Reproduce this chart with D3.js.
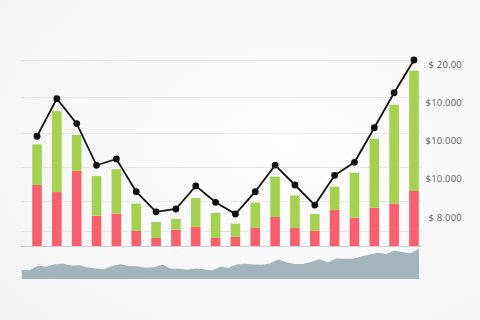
<!DOCTYPE html>
<html>
<head>
<meta charset="utf-8">
<script src="https://cdn.jsdelivr.net/npm/d3@7"></script>
<style>
  html, body { margin: 0; padding: 0; background: #fff; }
  svg { display: block; }
</style>
</head>
<body>
<svg id="chart"></svg>
<script>
var width = 480, height = 320

// data
var categories = d3.range(1, 21).map(function(d) { return "P" + d })
var redValues = [32.8, 29.0, 40.3, 16.3, 17.4, 8.1, 4.3, 8.8, 10.2, 4.3,
                 5.0, 9.7, 15.6, 9.7, 8.2, 19.4, 15.2, 20.6, 22.7, 29.6]
var greenValues = [21.9, 43.5, 19.4, 21.3, 23.9, 14.7, 8.6, 5.8, 15.6, 13.4,
                   7.0, 13.6, 21.7, 17.4, 9.0, 12.5, 24.2, 37.1, 53.2, 64.7]
var lineValues = [59.0, 79.2, 65.8, 43.4, 46.8, 29.2, 18.4, 19.9, 32.3, 23.5,
                  17.2, 29.2, 43.5, 32.8, 22.0, 38.0, 45.0, 63.6, 82.4, 100.0]
var gridValues = [8, 24, 42.5, 61, 80, 100]
var tickLabels = ["$ 20.00", "$10.000", "$10.000", "$10.000", "$ 8.000"]
var overviewValues = [9, 9, 13.3, 12.3, 14.7, 15.3, 13.5, 13.7, 11.5, 10.6,
                      9.8, 13.2, 14.8, 12.8, 12.7, 11.3, 11.8, 14.6, 10.3, 10.6,
                      9.3, 10.4, 9.7, 8.5, 12.2, 11.2, 14.6, 15.2, 14.6, 14.2,
                      15.4, 19.5, 16.7, 15.1, 15, 17.3, 19.7, 16.5, 20.5, 20.2,
                      20.2, 22.4, 24.2, 26.2, 24.9, 28.3, 27, 25.8, 30.3]

var svg = d3.select("#chart")
    .attr("width", width)
    .attr("height", height)

// soft background
var defs = svg.append("defs")
var grad = defs.append("radialGradient")
    .attr("id", "bg")
    .attr("cx", "60%").attr("cy", "45%").attr("r", "75%")
grad.append("stop").attr("offset", "0%").attr("stop-color", "#ffffff")
grad.append("stop").attr("offset", "100%").attr("stop-color", "#f3f3f3")
svg.append("rect")
    .attr("width", width)
    .attr("height", height)
    .attr("fill", "url(#bg)")

var x = d3.scaleBand()
    .domain(categories)
    .range([27.1, 423.9])
    .paddingInner(0.516)
    .paddingOuter(0.258)

var y = d3.scaleLinear()
    .domain([0, 100])
    .range([246, 60])

// grid
svg.append("g").selectAll("line")
    .data(gridValues)
    .enter()
    .append("line")
        .attr("x1", 21)
        .attr("x2", 422)
        .attr("y1", function(d) { return Math.round(y(d)) + 0.5 })
        .attr("y2", function(d) { return Math.round(y(d)) + 0.5 })
        .attr("stroke", "#e8e8e8")
        .attr("stroke-width", 1)

// stacked bars
var stackData = categories.map(function(c, i) {
    return { cat: c, red: redValues[i], green: greenValues[i] }
})
var series = d3.stack().keys(["red", "green"])(stackData)
var colors = { red: "#f7606c", green: "#a4d151" }

svg.append("g").selectAll("g")
    .data(series)
    .enter()
    .append("g")
        .attr("fill", function(d) { return colors[d.key] })
    .selectAll("rect")
    .data(function(d) { return d })
    .enter()
    .append("rect")
        .attr("x", function(d) { return x(d.data.cat) })
        .attr("width", x.bandwidth())
        .attr("y", function(d) { return y(d[1]) })
        .attr("height", function(d) { return y(d[0]) - y(d[1]) })

// baseline
svg.append("line")
    .attr("x1", 21).attr("x2", 422)
    .attr("y1", y(0) + 0.5).attr("y2", y(0) + 0.5)
    .attr("stroke", "#cfcfcf")

// line + dots
var cx = function(i) { return x(categories[i]) + x.bandwidth() / 2 }
var line = d3.line()
    .x(function(d, i) { return cx(i) })
    .y(function(d) { return y(d) })

svg.append("path")
    .datum(lineValues)
    .attr("d", line)
    .attr("fill", "none")
    .attr("stroke", "#111")
    .attr("stroke-width", 1.8)

svg.append("g").selectAll("circle")
    .data(lineValues)
    .enter()
    .append("circle")
        .attr("cx", function(d, i) { return cx(i) })
        .attr("cy", function(d) { return y(d) })
        .attr("r", 3.4)
        .attr("fill", "#111")

// right-hand labels
var ly = d3.scalePoint()
    .domain(d3.range(tickLabels.length))
    .range([65, 218])

svg.append("g").selectAll("text")
    .data(tickLabels)
    .enter()
    .append("text")
        .attr("x", 462)
        .attr("y", function(d, i) { return ly(i) })
        .attr("text-anchor", "end")
        .attr("dominant-baseline", "middle")
        .attr("font-family", "Open Sans, sans-serif")
        .attr("font-size", 9.5)
        .attr("letter-spacing", 0.2)
        .attr("fill", "#5a5a5a")
        .text(function(d) { return d })

// overview area
var ox = d3.scaleLinear()
    .domain([0, overviewValues.length - 1])
    .range([21.7, 419])
var oy = d3.scaleLinear()
    .domain([0, 30])
    .range([279, 249])

var area = d3.area()
    .x(function(d, i) { return ox(i) })
    .y0(oy(0))
    .y1(function(d) { return oy(d) })

svg.append("path")
    .datum(overviewValues)
    .attr("d", area)
    .attr("fill", "#a3b5bb")
</script>
</body>
</html>
